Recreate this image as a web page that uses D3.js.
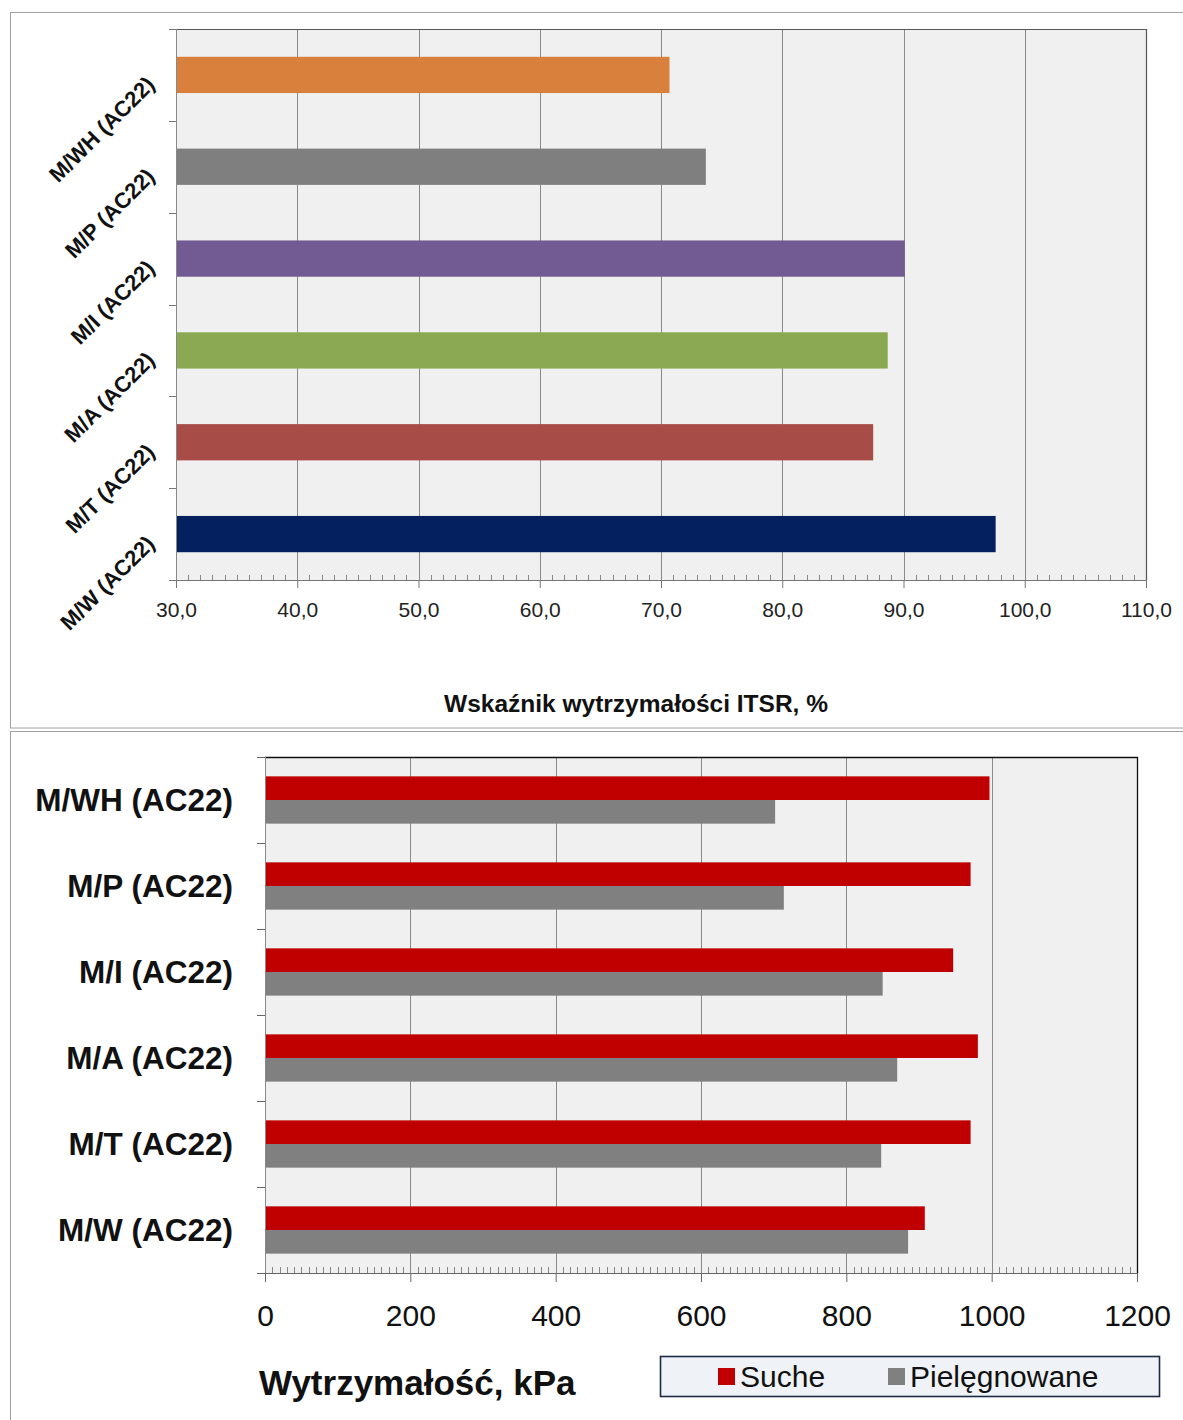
<!DOCTYPE html>
<html>
<head>
<meta charset="utf-8">
<script src="https://cdn.jsdelivr.net/npm/d3@7"></script>
<style>
  html, body { margin: 0; padding: 0; background: #ffffff; }
  svg { display: block; font-family: "Liberation Sans", Arial, sans-serif; }
</style>
</head>
<body>
<svg id="chart" width="1183" height="1420"></svg>
<script>
// ---------- DATA ----------
const categories = ["M/WH (AC22)", "M/P (AC22)", "M/I (AC22)", "M/A (AC22)", "M/T (AC22)", "M/W (AC22)"];
const itsrValues = [70.7, 73.7, 90.1, 88.7, 87.5, 97.6];
const sucheValues = [997, 971, 947, 981, 971, 908];
const pielegnowaneValues = [702, 714, 850, 870, 848, 885];
const itsrTicks = [30, 40, 50, 60, 70, 80, 90, 100, 110];
const itsrTickLabels = ["30,0", "40,0", "50,0", "60,0", "70,0", "80,0", "90,0", "100,0", "110,0"];
const kpaTicks = [0, 200, 400, 600, 800, 1000, 1200];
const kpaTickLabels = ["0", "200", "400", "600", "800", "1000", "1200"];
const seriesNames = ["Suche", "Pielęgnowane"];
const itsrTitle = "Wskaźnik wytrzymałości ITSR, %";
const kpaTitle = "Wytrzymałość, kPa";

// ---------- STYLES ----------
const itsrColors = ["#D9813C", "#7F7F7F", "#725A92", "#8AA952", "#A84C48", "#04205F"];
const seriesColors = ["#C00000", "#808080"];

const svg = d3.select("#chart");

// ===== Outer frames =====
svg.append("rect").attr("x", 10.5).attr("y", 12.5).attr("width", 1180).attr("height", 715.5)
  .attr("fill", "#fff").attr("stroke", "#a0a0a0");
svg.append("rect").attr("x", 10.5).attr("y", 731.5).attr("width", 1180).attr("height", 700)
  .attr("fill", "#fff").attr("stroke", "#a0a0a0");

// ===== TOP CHART =====
(function () {
  const L = 176, R = 1146, T = 29, B = 580;
  const x = d3.scaleLinear().domain([30, 110]).range([L, R]);
  const y = d3.scaleBand().domain(categories).range([T, B]).paddingInner(0).paddingOuter(0);
  const g = svg.append("g");

  g.append("rect").attr("x", L).attr("y", T).attr("width", R - L).attr("height", B - T).attr("fill", "#F0F0F0");

  // gridlines
  g.selectAll("line.grid").data(itsrTicks.slice(1, -1)).enter().append("line")
    .attr("x1", d => Math.round(x(d)) + 0.5).attr("x2", d => Math.round(x(d)) + 0.5)
    .attr("y1", T).attr("y2", B).attr("stroke", "#8a8a8a").attr("stroke-width", 1);

  // bars
  const bh = y.bandwidth() * 0.395;
  g.selectAll("rect.bar").data(categories).enter().append("rect")
    .attr("x", x(30))
    .attr("y", d => y(d) + (y.bandwidth() - bh) / 2)
    .attr("width", (d, i) => x(itsrValues[i]) - x(30))
    .attr("height", bh)
    .attr("fill", (d, i) => itsrColors[i]);

  // plot border top/right
  g.append("path").attr("d", `M${L},${T + 0.5}H${R + 0.5}V${B}`).attr("fill", "none").attr("stroke", "#555").attr("stroke-width", 1.2);

  // x axis
  const ax = d3.axisBottom(x).tickValues(itsrTicks).tickSize(8).tickFormat((d, i) => itsrTickLabels[i]);
  const axg = g.append("g").attr("transform", `translate(0,${B})`).call(ax);
  axg.select(".domain").remove();
  axg.selectAll(".tick line").attr("stroke", "#777");
  axg.selectAll(".tick text").attr("font-size", 21).attr("fill", "#222").attr("dy", "0").attr("y", 37)
    .attr("font-family", "Liberation Sans, Arial, sans-serif");
  g.append("line").attr("x1", L - 7).attr("x2", R).attr("y1", B + 0.5).attr("y2", B + 0.5).attr("stroke", "#777");
  // minor ticks
  const minor = d3.range(30, 110.001, 1).filter(v => v % 10 !== 0);
  g.selectAll("line.minor").data(minor).enter().append("line")
    .attr("x1", d => Math.round(x(d)) + 0.5).attr("x2", d => Math.round(x(d)) + 0.5)
    .attr("y1", B).attr("y2", B - 5).attr("stroke", "#888");

  // y axis
  g.append("line").attr("x1", L + 0.5).attr("x2", L + 0.5).attr("y1", T).attr("y2", B).attr("stroke", "#888");
  const bounds = categories.map(c => y(c)).concat([B]);
  g.selectAll("line.ytick").data(bounds).enter().append("line")
    .attr("x1", L - 7).attr("x2", L).attr("y1", d => Math.round(d) + 0.5).attr("y2", d => Math.round(d) + 0.5)
    .attr("stroke", "#777");

  // category labels rotated
  g.selectAll("text.cat").data(categories).enter().append("text")
    .attr("transform", d => `translate(${L - 20},${y(d) + y.bandwidth() / 2 + 11}) rotate(-45)`)
    .attr("text-anchor", "end").attr("font-size", 22).attr("font-weight", "bold").attr("fill", "#111")
    .text(d => d);

  // title
  g.append("text").attr("x", 636).attr("y", 712).attr("text-anchor", "middle")
    .attr("font-size", 24.5).attr("font-weight", "bold").attr("fill", "#111").text(itsrTitle);
})();

// ===== BOTTOM CHART =====
(function () {
  const L = 265, R = 1137, T = 757, B = 1273;
  const x = d3.scaleLinear().domain([0, 1200]).range([L, R]);
  const y = d3.scaleBand().domain(categories).range([T, B]).paddingInner(0).paddingOuter(0);
  const g = svg.append("g");

  g.append("rect").attr("x", L).attr("y", T).attr("width", R - L).attr("height", B - T).attr("fill", "#F0F0F0");

  g.selectAll("line.grid").data(kpaTicks.slice(1, -1)).enter().append("line")
    .attr("x1", d => Math.round(x(d)) + 0.5).attr("x2", d => Math.round(x(d)) + 0.5)
    .attr("y1", T).attr("y2", B).attr("stroke", "#8a8a8a");

  const gh = y.bandwidth() * 0.55;
  const bh = gh / 2;
  const series = [sucheValues, pielegnowaneValues];
  series.forEach((vals, s) => {
    g.selectAll("rect.bar" + s).data(categories).enter().append("rect")
      .attr("x", x(0))
      .attr("y", d => y(d) + (y.bandwidth() - gh) / 2 + s * bh)
      .attr("width", (d, i) => x(vals[i]) - x(0))
      .attr("height", bh)
      .attr("fill", seriesColors[s]);
  });

  g.append("path").attr("d", `M${L},${T + 0.5}H${R + 0.5}V${B}`).attr("fill", "none").attr("stroke", "#111").attr("stroke-width", 1.3);

  const ax = d3.axisBottom(x).tickValues(kpaTicks).tickSize(9).tickFormat((d, i) => kpaTickLabels[i]);
  const axg = g.append("g").attr("transform", `translate(0,${B})`).call(ax);
  axg.select(".domain").remove();
  axg.selectAll(".tick line").attr("stroke", "#666");
  axg.selectAll(".tick text").attr("font-size", 30).attr("fill", "#111").attr("dy", "0").attr("y", 53)
    .attr("font-family", "Liberation Sans, Arial, sans-serif");
  g.append("line").attr("x1", L - 8).attr("x2", R).attr("y1", B + 0.5).attr("y2", B + 0.5).attr("stroke", "#666");
  const minor = d3.range(0, 1200.001, 10).filter(v => v % 200 !== 0);
  g.selectAll("line.minor").data(minor).enter().append("line")
    .attr("x1", d => Math.round(x(d)) + 0.5).attr("x2", d => Math.round(x(d)) + 0.5)
    .attr("y1", B).attr("y2", B - 6).attr("stroke", "#888");

  g.append("line").attr("x1", L + 0.5).attr("x2", L + 0.5).attr("y1", T).attr("y2", B).attr("stroke", "#888");
  const bounds = categories.map(c => y(c)).concat([B]);
  g.selectAll("line.ytick").data(bounds).enter().append("line")
    .attr("x1", L - 8).attr("x2", L).attr("y1", d => Math.round(d) + 0.5).attr("y2", d => Math.round(d) + 0.5)
    .attr("stroke", "#666");

  g.selectAll("text.cat").data(categories).enter().append("text")
    .attr("x", 233).attr("y", d => y(d) + y.bandwidth() / 2 + 11)
    .attr("text-anchor", "end").attr("font-size", 31.5).attr("font-weight", "bold").attr("fill", "#111")
    .text(d => d);

  g.append("text").attr("x", 259).attr("y", 1395).attr("font-size", 35).attr("font-weight", "bold")
    .attr("fill", "#111").text(kpaTitle);

  // legend
  const lg = g.append("g");
  lg.append("rect").attr("x", 660.5).attr("y", 1356.5).attr("width", 499).attr("height", 40)
    .attr("fill", "#EFF2F7").attr("stroke", "#1C2A45").attr("stroke-width", 1.6);
  const lx = [718, 888];
  seriesNames.forEach((n, i) => {
    lg.append("rect").attr("x", lx[i]).attr("y", 1368).attr("width", 17).attr("height", 17).attr("fill", seriesColors[i]);
    lg.append("text").attr("x", lx[i] + 22).attr("y", 1387).attr("font-size", 30).attr("fill", "#111").text(n);
  });
})();
</script>
</body>
</html>
